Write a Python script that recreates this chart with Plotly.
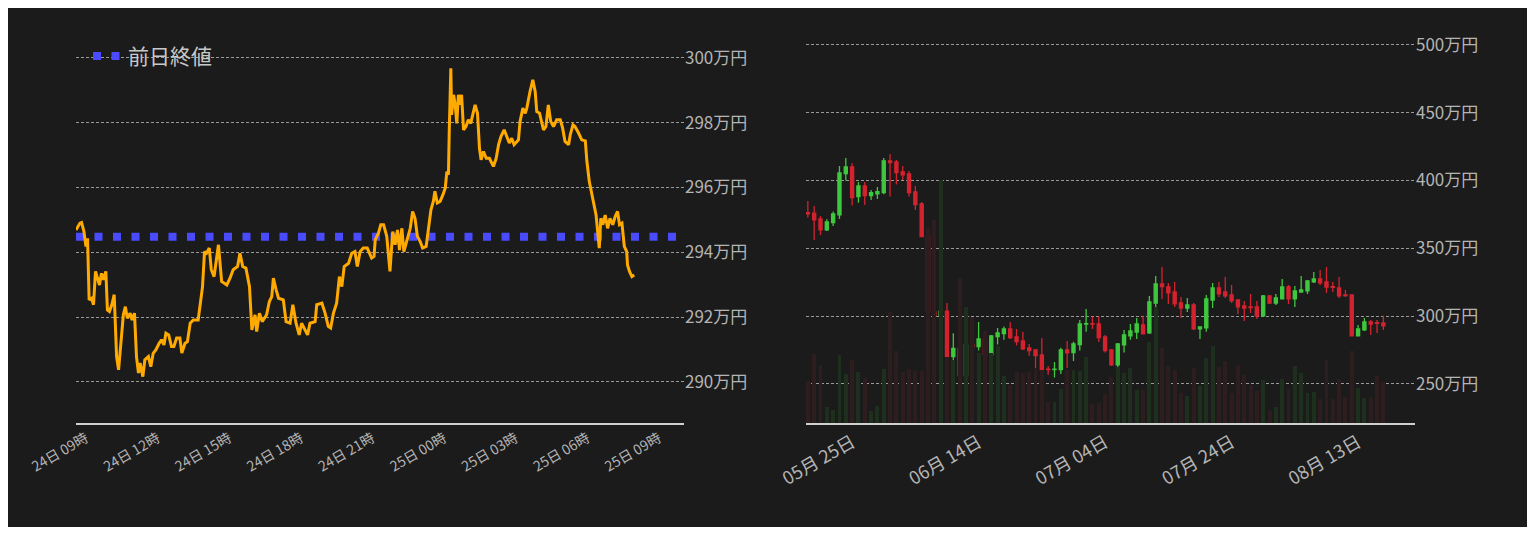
import pandas as pd
import plotly.graph_objects as go

# ---------- left: intraday price (万円) ----------
intraday_minutes = [-25,-15,-11,-5,0,4,8,14,19,24,29,34,39,44,50,54,59,65,71,77,82,87,94,99,104,111,116,122,127,132,136,143,148,157,163,169,176,184,190,196,201,208,215,221,228,236,241,249,255,262,270,282,287,293,298,303,310,315,322,333,341,354,362,370,381,387,394,402,411,417,425,429,436,443,454,461,467,471,478,484,496,503,513,520,528,536,542,551,557,563,576,580,593,601,609,615,622,630,637,643,649,660,668,676,682,689,697,707,718,724,727,735,741,748,756,764,771,777,783,788,794,799,806,815,821,827,833,840,846,855,861,867,873,877,883,890,897,903,907,911,913,917,919,924,928,932,936,940,944,949,955,961,967,974,978,984,989,993,999,1006,1014,1024,1031,1037,1043,1051,1058,1064,1070,1076,1087,1091,1098,1104,1108,1112,1116,1123,1129,1133,1140,1146,1150,1156,1162,1168,1175,1183,1192,1198,1204,1213,1217,1224,1229,1238,1246,1255,1259,1265,1271,1275,1282,1286,1290,1294,1299,1305,1311,1317,1324,1330,1336,1341,1347,1353,1359,1361,1366,1372,1378]
intraday_price = [294.69,294.90,294.92,294.64,294.18,294.43,292.53,292.58,292.38,293.41,293.20,292.99,293.35,293.15,293.41,292.22,292.17,292.38,292.69,290.78,290.37,291.09,292.07,292.32,291.96,292.12,291.91,292.12,290.78,290.27,290.58,290.16,290.68,290.78,290.47,290.88,290.99,291.19,291.30,291.14,291.50,291.45,291.09,291.09,291.35,291.35,290.89,291.19,291.24,291.81,291.91,291.91,292.43,292.94,294.02,293.97,294.13,293.46,293.25,294.23,293.10,292.99,293.20,293.46,293.56,293.97,293.56,293.51,292.94,291.60,292.07,291.55,292.12,291.86,292.07,292.48,292.63,293.20,292.84,292.58,292.53,291.86,291.81,292.38,291.81,291.45,291.81,291.61,291.45,291.81,291.86,292.38,292.43,292.12,291.71,291.66,292.12,292.43,293.25,292.94,293.56,293.66,293.97,294.02,293.56,294.02,294.13,294.13,293.82,293.87,294.38,294.59,294.85,294.85,294.49,293.41,294.64,294.23,294.69,294.07,294.74,294.02,294.33,294.74,295.26,295.05,294.49,294.33,294.13,294.18,294.74,295.31,295.57,295.88,295.52,295.57,295.77,295.98,296.49,296.39,297.73,299.68,298.24,298.86,298.55,297.98,298.86,298.55,298.86,297.78,297.88,298.09,297.98,298.40,298.55,298.29,297.21,296.85,297.11,296.90,296.90,296.65,296.90,297.32,297.57,297.78,297.52,297.37,297.52,297.32,297.47,298.04,298.45,298.29,298.45,298.76,298.96,299.32,298.96,298.34,298.29,297.98,297.78,297.88,298.55,298.04,297.88,298.09,298.09,297.83,297.42,297.32,297.62,297.93,297.88,297.68,297.47,297.44,296.80,296.18,295.77,295.57,295.15,294.64,294.13,295.05,294.85,295.15,294.74,295.05,294.85,295.10,295.26,294.85,294.90,294.18,294.02,293.61,293.41,293.25,293.30]
prev_close = 294.48
left_ticks_hours = [0, 3, 6, 9, 12, 15, 18, 21, 24]
left_yticks = [290, 292, 294, 296, 298, 300]

# ---------- right: daily candles (万円) ----------
daily_start = "2024-05-18"
d_open = [376.3,375.9,371.7,363.6,369.0,374.6,405.1,410.0,388.2,396.0,388.9,390.1,391.1,414.5,413.7,406.4,404.9,391.6,382.8,359.1,303.1,300.2,303.6,270.2,276.3,256.2,278.8,277.5,283.2,271.6,284.9,287.1,290.6,284.7,281.7,276.6,275.1,271.4,260.9,260.6,260.6,275.1,273.1,279.0,294.2,294.5,294.2,284.7,275.1,264.0,278.8,285.4,288.3,293.5,287.6,309.7,323.7,321.5,317.8,309.7,306.0,308.3,290.6,291.3,311.9,320.8,317.8,315.6,312.0,307.5,306.8,306.8,300.2,314.9,309.7,312.7,321.5,312.7,317.8,318.6,325.2,327.4,325.2,321.8,320.8,315.6,315.6,285.4,289.8,295.7,295.2,295.0]
d_high = [384.9,381.3,373.9,371.4,377.1,410.8,416.7,412.7,399.0,399.0,393.1,395.3,416.7,419.6,415.2,410.8,407.1,396.0,384.2,362.8,314.9,307.0,309.7,287.4,281.2,281.7,284.9,295.7,284.9,286.1,291.3,292.3,295.7,290.6,288.4,279.5,275.8,283.7,263.3,266.2,276.6,281.7,281.2,297.2,305.3,299.7,299.7,286.1,275.8,280.2,289.8,294.2,298.7,300.2,314.9,329.6,336.3,324.5,325.2,314.1,313.4,309.7,292.0,315.6,324.5,325.2,328.9,323.0,312.0,311.2,316.4,311.2,315.6,315.6,316.4,327.4,323.0,322.3,329.6,326.7,332.6,334.1,336.3,325.2,328.9,319.3,315.6,293.5,298.7,297.2,297.2,300.2]
d_low = [372.7,356.2,359.9,362.8,366.5,371.7,400.0,381.5,383.7,382.0,385.7,386.4,389.9,388.2,397.0,400.4,388.2,378.3,358.2,296.5,281.2,271.4,267.7,267.7,239.9,242.6,264.8,274.6,269.2,270.2,279.0,282.5,283.2,278.3,275.1,270.7,253.0,256.7,256.7,254.7,257.4,261.8,267.0,274.6,288.4,290.6,281.0,273.1,263.3,259.6,273.1,282.5,283.2,286.9,286.9,297.9,312.7,309.0,306.8,298.7,303.1,289.8,283.2,288.4,306.0,314.1,313.4,309.7,301.6,296.5,302.3,297.9,300.2,309.0,308.3,312.7,309.0,306.8,317.8,316.4,324.5,323.0,317.1,317.8,313.4,314.1,285.4,285.4,289.1,286.1,287.6,289.8]
d_close = [375.4,371.0,363.6,369.5,375.4,405.6,410.0,387.4,396.0,388.9,391.1,391.8,414.5,413.2,405.9,404.1,391.1,382.3,358.7,303.4,300.2,303.6,270.2,276.3,256.2,278.8,277.5,283.2,271.6,285.4,287.6,290.6,284.2,281.2,275.8,274.6,270.9,260.6,260.6,260.9,275.1,272.9,279.5,294.2,294.5,294.2,284.2,274.6,264.0,279.5,286.1,289.1,294.2,286.9,310.5,323.7,321.8,317.1,309.0,306.0,308.3,290.6,292.0,312.7,320.8,316.4,314.9,311.2,306.8,306.0,306.3,300.2,314.9,309.7,313.4,321.5,312.7,318.6,319.3,325.9,327.4,324.5,321.5,321.3,314.9,315.1,285.4,290.6,295.7,294.2,294.7,292.8]
d_volume = [42,69,58,16,13,68,49,63,51,45,12,17,54,111,72,51,54,52,52,195,203,243,66,63,145,116,106,70,92,70,77,47,38,51,50,51,55,53,21,21,34,53,53,52,66,19,20,29,46,56,50,55,33,33,81,116,75,57,53,30,27,55,37,65,77,56,62,30,58,48,38,32,43,12,16,44,34,57,50,30,31,24,63,24,44,26,72,35,25,26,47,41]
right_tick_dates = ["2024-05-25", "2024-06-14", "2024-07-04", "2024-07-24", "2024-08-13"]
right_yticks = [250, 300, 350, 400, 450, 500]

BG = "#1b1b1b"
GRID = "#9a9a9a"
TXT = "#b4b4b4"
W, H, OFF = 1519, 519, 8

def px(x):
    return (x - OFF) / W

base = pd.Timestamp("2024-08-24 09:00")
times = [base + pd.Timedelta(minutes=m) for m in intraday_minutes]
dates = pd.date_range(daily_start, periods=len(d_open), freq="D")
up = [c >= o for o, c in zip(d_open, d_close)]

fig = go.Figure()
x0 = base + pd.Timedelta(minutes=-25)
x1 = base + pd.Timedelta(minutes=1503)
fig.add_trace(go.Scatter(x=[x0, x1], y=[prev_close, prev_close], mode="lines",
                         line=dict(color="#4a4aff", width=8, dash="8px,10.5px"),
                         name="前日終値", xaxis="x", yaxis="y", showlegend=True))
fig.add_trace(go.Scatter(x=times, y=intraday_price, mode="lines",
                         line=dict(color="#ffaa00", width=3), xaxis="x", yaxis="y",
                         showlegend=False))

fig.add_trace(go.Bar(x=dates, y=d_volume, xaxis="x2", yaxis="y3",
                     marker=dict(color=["#1e2f1e" if u else "#2e1d1e" for u in up], line_width=0),
                     width=0.62 * 86400000, showlegend=False))
fig.add_trace(go.Candlestick(x=dates, open=d_open, high=d_high, low=d_low, close=d_close,
                             xaxis="x2", yaxis="y2", showlegend=False,
                             increasing=dict(line=dict(color="#3ec83e", width=1.3), fillcolor="#3ec83e"),
                             decreasing=dict(line=dict(color="#d4232f", width=1.3), fillcolor="#d4232f"),
                             whiskerwidth=0))

fig.update_layout(
    width=W, height=H, paper_bgcolor=BG, plot_bgcolor=BG,
    margin=dict(l=0, r=0, t=30 - OFF, b=535 - 423 - OFF, autoexpand=False),
    font=dict(family="Noto Sans CJK JP", color=TXT),
    legend=dict(x=px(88), y=0.985, xanchor="left", yanchor="top", bgcolor="rgba(0,0,0,0)",
                font=dict(size=21, color="#c8c8c8")),
    bargap=0,
    xaxis=dict(domain=[px(76), px(684)], range=[x0, x1], type="date", automargin=False,
               tickvals=[base + pd.Timedelta(hours=h) for h in left_ticks_hours],
               tickformat="%d日 %H時", tickangle=-30, tickfont=dict(size=14, color=TXT),
               showgrid=False, showline=True, linecolor="#cfcfcf", linewidth=2,
               ticks="", zeroline=False),
    yaxis=dict(domain=[0, 1], range=[288.73, 300.86], side="right", anchor="x", automargin=False,
               tickvals=left_yticks, ticktext=[f"{v}万円" for v in left_yticks],
               tickfont=dict(size=17, color=TXT), showgrid=True, gridcolor=GRID,
               griddash="3px,2px", gridwidth=0.6, zeroline=False, ticks=""),
    xaxis2=dict(domain=[px(806), px(1415)], type="date", automargin=False,
                range=[dates[0] - pd.Timedelta(hours=7), dates[-1] + pd.Timedelta(days=5)],
                tickvals=pd.to_datetime(right_tick_dates), tickformat="%m月 %d日",
                tickangle=-30, tickfont=dict(size=18, color=TXT), showgrid=False,
                showline=True, linecolor="#cfcfcf", linewidth=2, ticks="",
                rangeslider=dict(visible=False), anchor="y2", zeroline=False),
    yaxis2=dict(domain=[0, 1], range=[221.2, 511], side="right", anchor="x2", automargin=False,
                tickvals=right_yticks, ticktext=[f"{v}万円" for v in right_yticks],
                tickfont=dict(size=17, color=TXT), showgrid=True, gridcolor=GRID,
                griddash="3px,2px", gridwidth=0.6, zeroline=False, ticks=""),
    yaxis3=dict(overlaying="y2", range=[0, 393], visible=False, anchor="x2"),
)
fig.write_html("out.html")
